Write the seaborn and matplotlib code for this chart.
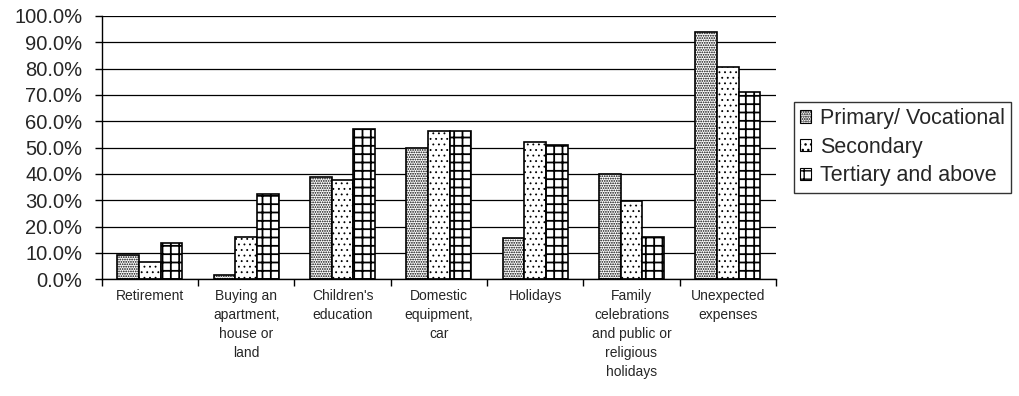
import pandas as pd
import matplotlib
matplotlib.use('Agg')
import matplotlib.pyplot as plt
import seaborn as sns
from matplotlib.patches import Patch
from matplotlib.ticker import FuncFormatter, FixedLocator

# categories (x axis) and education groups
categories = [
    'Retirement',
    'Buying an\napartment,\nhouse or\nland',
    "Children's\neducation",
    'Domestic\nequipment,\ncar',
    'Holidays',
    'Family\ncelebrations\nand public or\nreligious\nholidays',
    'Unexpected\nexpenses',
]
groups = ['Primary/ Vocational', 'Secondary', 'Tertiary and above']

# shares in percent
primary = [9.2, 1.6, 38.7, 50.0, 15.7, 40.0, 94.0]
secondary = [6.7, 16.2, 37.7, 56.4, 52.3, 29.7, 80.7]
tertiary = [13.7, 32.4, 57.1, 56.4, 51.1, 16.2, 71.0]

hatches = ['.......', '...', '++']
hatch_lw = [0.85, 0.6, 1.3]

rows = []
for g, vals in zip(groups, [primary, secondary, tertiary]):
    for c, v in zip(categories, vals):
        rows.append({'category': c, 'group': g, 'share': v})
df = pd.DataFrame(rows)

sns.set_style('white')
plt.rcParams['font.family'] = ['Liberation Sans', 'DejaVu Sans']
plt.rcParams['hatch.color'] = 'black'

fig = plt.figure(figsize=(10.19, 3.96), dpi=100)
ax = fig.add_axes([0.0998, 0.2947, 0.6617, 0.6649])

sns.barplot(data=df, x='category', y='share', hue='group', order=categories,
            hue_order=groups, width=0.675, gap=0,
            palette=['white'] * 3, edgecolor='black', linewidth=1.2,
            legend=False, ax=ax)

for cont, h, lw in zip(ax.containers, hatches, hatch_lw):
    for bar in cont:
        bar.set_hatch(h)
        if hasattr(bar, 'set_hatch_linewidth'):
            bar.set_hatch_linewidth(lw)

ax.set_ylim(0, 100)
ax.set_xlim(-0.5, len(categories) - 0.5)
ax.yaxis.set_major_locator(FixedLocator(range(0, 101, 10)))
ax.yaxis.set_major_formatter(FuncFormatter(lambda v, p: f'{v:.1f}%'))
ax.grid(axis='y', color='black', linewidth=0.9)
ax.set_axisbelow(True)

ax.set_xlabel('')
ax.set_ylabel('')
ax.tick_params(axis='y', labelsize=14.5, length=5, width=1, color='black', left=True, pad=9)
ax.tick_params(axis='x', which='major', labelsize=10, length=0, pad=7)
ax.set_xticks([i + 0.5 for i in range(-1, len(categories))], minor=True)
ax.tick_params(axis='x', which='minor', length=5, width=1, color='black', bottom=True, direction='out')
for lab in ax.get_xticklabels():
    lab.set_linespacing(1.45)

for s in ['top', 'right']:
    ax.spines[s].set_visible(False)
for s in ['left', 'bottom']:
    ax.spines[s].set_color('black')
    ax.spines[s].set_linewidth(1.0)

handles = []
for h, lw in zip(hatches, hatch_lw):
    p = Patch(facecolor='white', edgecolor='black', hatch=h, linewidth=0.8)
    if hasattr(p, 'set_hatch_linewidth'):
        p.set_hatch_linewidth(lw)
    handles.append(p)
leg = fig.legend(handles, groups, loc='upper left', bbox_to_anchor=(0.779, 0.743),
                 bbox_transform=fig.transFigure, borderaxespad=0, frameon=True,
                 fancybox=False, fontsize=15.5, handlelength=0.5, handleheight=0.5,
                 handletextpad=0.4, labelspacing=0.35, borderpad=0.3)
leg.get_frame().set_edgecolor('black')
leg.get_frame().set_linewidth(1.0)

fig.savefig('out.png', dpi=100)
